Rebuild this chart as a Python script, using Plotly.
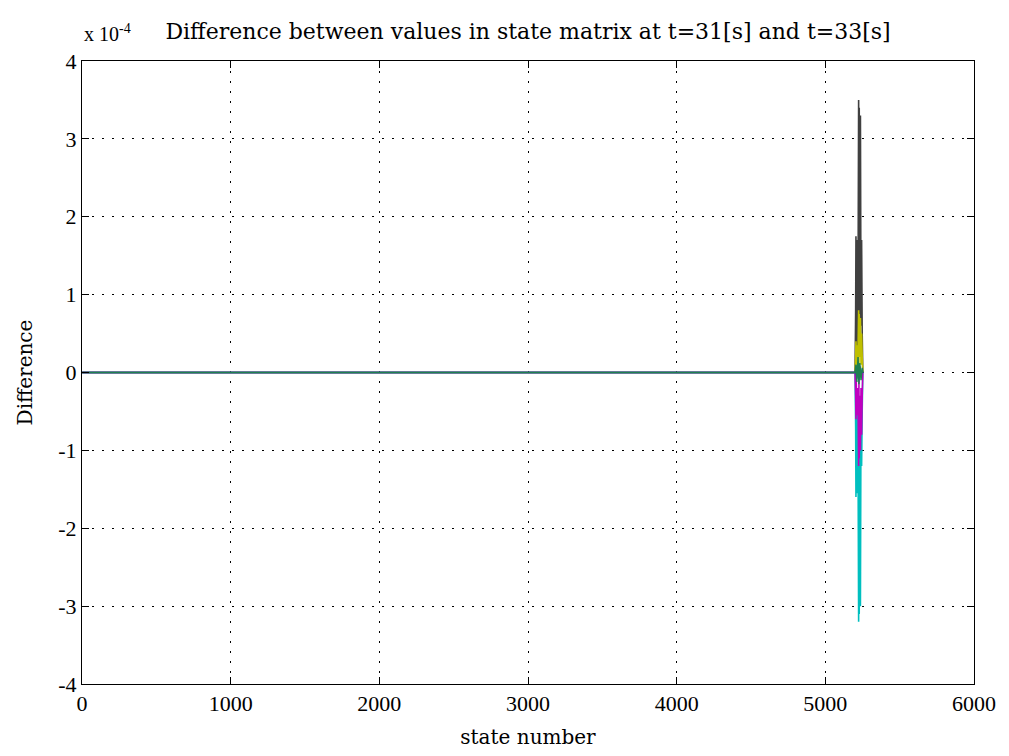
import plotly.graph_objects as go

# Values are in units of 1e-4
SCALE_LABEL = "x 10<sup>-4</sup>"
TITLE = "Difference between values in state matrix at t=31[s] and t=33[s]"
X_LABEL = "state number"
Y_LABEL = "Difference"

x_ticks = [0, 1000, 2000, 3000, 4000, 5000, 6000]
y_ticks = [-4, -3, -2, -1, 0, 1, 2, 3, 4]

# series (state number, difference)
gray_x = [1, 5200, 5204, 5206, 5208, 5212, 5216, 5220, 5224, 5226, 5228, 5232, 5236, 5240, 5244, 5248, 5252]
gray_y = [0, 0, 0.8, 1.75, 0.2, 1.7, 0.1, 1.0, 3.5, 0.3, 3.4, 0.5, 3.3, 0.6, 1.7, 0.5, 0.0]

cyan_x = [1, 5200, 5204, 5206, 5208, 5212, 5216, 5220, 5224, 5226, 5228, 5232, 5236, 5240, 5244, 5248, 5252]
cyan_y = [0, 0, -0.7, -1.6, -0.3, -1.55, -0.5, -1.0, -3.2, -0.6, -3.1, -0.7, -3.0, -0.4, -1.2, -0.5, 0.0]

mag_x = [1, 5200, 5204, 5206, 5208, 5212, 5216, 5220, 5224, 5226, 5228, 5232, 5236, 5240, 5244, 5248, 5252]
mag_y = [0, 0, -0.3, -0.6, -0.1, -0.55, -0.2, -0.4, -1.2, -0.1, -1.1, -0.3, -1.0, -0.2, -0.8, -0.3, 0.0]

yel_x = [1, 5200, 5204, 5206, 5208, 5212, 5216, 5220, 5224, 5226, 5228, 5232, 5236, 5240, 5244, 5248, 5252]
yel_y = [0, 0, 0.2, 0.4, 0.05, 0.35, 0.1, 0.3, 0.8, 0.1, 0.75, 0.2, 0.7, 0.1, 0.5, 0.2, 0.0]

blue_x = [1, 5200, 5206, 5212, 5220, 5226, 5232, 5240, 5248, 5252]
blue_y = [0, 0, 0.05, -0.08, 0.1, -0.1, 0.08, -0.05, 0.04, 0.0]

green_x = [1, 5200, 5206, 5212, 5220, 5226, 5232, 5240, 5248, 5252]
green_y = [0, 0, 0.1, -0.12, 0.2, -0.15, 0.12, -0.1, 0.06, 0.0]

series = [
    (gray_x, gray_y, "rgb(64,64,64)", 1.6),
    (cyan_x, cyan_y, "rgb(0,191,191)", 1.6),
    (mag_x, mag_y, "rgb(191,0,191)", 1.6),
    (yel_x, yel_y, "rgb(191,191,0)", 1.6),
    (blue_x, blue_y, "rgb(0,0,255)", 1.3),
    (green_x, green_y, "rgb(30,128,80)", 1.5),
]

fig = go.Figure()
for xs, ys, col, w in series:
    fig.add_trace(go.Scatter(x=xs, y=ys, mode="lines",
                             line=dict(color=col, width=w),
                             showlegend=False, hoverinfo="skip"))

FONT = "Liberation Serif"
LABEL_FONT = "DejaVu Serif"
axis_common = dict(
    showline=True, linecolor="black", linewidth=1, mirror="allticks",
    ticks="inside", ticklen=7, tickcolor="black", tickwidth=1,
    showgrid=True, gridcolor="black", gridwidth=1, griddash="2px,8px",
    zeroline=False,
    tickfont=dict(family=FONT, size=22, color="black"),
)

fig.update_layout(
    width=1009, height=756,
    margin=dict(l=82, r=35, t=61, b=72),
    paper_bgcolor="white", plot_bgcolor="white",
    title=dict(text=TITLE, x=0.5, xanchor="center", xref="paper",
               y=1 - 31 / 756, yanchor="middle",
               font=dict(family=LABEL_FONT, size=22, color="black")),
    xaxis=dict(range=[0, 6000], tickvals=x_ticks,
               ticktext=[str(v) for v in x_ticks],
               title=dict(text=X_LABEL, standoff=14,
                          font=dict(family=LABEL_FONT, size=20, color="black")),
               **axis_common),
    yaxis=dict(range=[-4, 4], tickvals=y_ticks,
               ticktext=[str(v) for v in y_ticks],
               title=dict(text=Y_LABEL, standoff=20,
                          font=dict(family=LABEL_FONT, size=20, color="black")),
               **axis_common),
    annotations=[dict(text=SCALE_LABEL, xref="paper", yref="paper",
                      x=0, y=1, xanchor="left", yanchor="bottom", yshift=14,
                      showarrow=False,
                      font=dict(family=FONT, size=20, color="black"))],
)

fig.write_html("out.html")
